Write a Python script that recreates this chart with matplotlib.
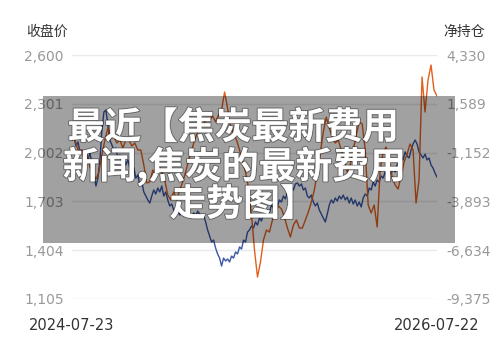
import matplotlib
matplotlib.use('Agg')
import matplotlib.pyplot as plt
import matplotlib.patheffects as pe
import pandas as pd

# 收盘价（左轴）
close_price = [2079, 2098, 2042, 2067, 2006, 2018, 1969, 1987, 1957, 2000,
               1938, 1865, 1797, 1846, 1957, 2140, 2251, 2263, 2171, 2079,
               2049, 2018, 2030, 1969, 1987, 1944, 1969, 1926, 1957, 1908,
               1883, 1908, 1846, 1865, 1803, 1822, 1761, 1736, 1712, 1693,
               1736, 1773, 1748, 1785, 1761, 1797, 1736, 1761, 1712, 1675,
               1687, 1650, 1638, 1656, 1620, 1632, 1614, 1638, 1614, 1626,
               1607, 1632, 1614, 1644, 1626, 1601, 1620, 1577, 1528, 1491,
               1454, 1466, 1417, 1381, 1356, 1307, 1356, 1338, 1350, 1332,
               1368, 1356, 1393, 1381, 1424, 1411, 1466, 1454, 1515, 1528,
               1552, 1540, 1577, 1558, 1601, 1583, 1626, 1614, 1650, 1638,
               1681, 1663, 1693, 1675, 1712, 1699, 1736, 1718, 1761, 1742,
               1785, 1773, 1810, 1816, 1797, 1810, 1773, 1785, 1736, 1724,
               1742, 1699, 1675, 1693, 1650, 1626, 1601, 1577, 1626, 1681,
               1712, 1693, 1724, 1705, 1736, 1718, 1742, 1712, 1730, 1693,
               1724, 1687, 1712, 1675, 1699, 1669, 1724, 1748, 1736, 1785,
               1773, 1822, 1797, 1834, 1822, 1859, 1846, 1883, 1859, 1895,
               1871, 1908, 1883, 1926, 1957, 1981, 1957, 2006, 1981, 1969,
               2018, 2055, 2079, 2055, 2006, 1987, 1969, 1993, 1957, 1969,
               1926, 1908, 1877, 1852]

# 净持仓（右轴）
net_position = [-164, -444, -1006, -1006, -1456, -1287, -1961, -2354, -2635, -2242,
                -1287, -444, 230, -332, -276, -613, -444, -894, -444, -444,
                -781, -613, -1006, -1006, -1849, -2860, -2804, -2130, -2467, -1849,
                -2242, -2691, -3534, -3815, -3365, -3815, -3253, -2804, -2242, -1568,
                -1006, -444, 5, 230, 454, 791, 679, 904, 567, 960,
                1241, 2252, 1353, 286, -107, -444, -1006, -1680, -2242, -3140,
                -4657, -6623, -8140, -7297, -6061, -5500, -5612, -4938, -4489, -4152,
                -4320, -4769, -5388, -5893, -5219, -4938, -5388, -5388, -4938, -4489,
                -3927, -3253, -2242, -1175, 5, 847, 230, -276, -613, -444,
                -1006, -1568, -2242, -1849, -1006, -164, 567, 454, -1006, -4096,
                -4545, -4096, -5331, -2130, -1118, -838, -1568, -2523, -2972, -3197,
                -2467, -1680, -1231, -669, -1006, -3984, -2691, 3094, 1128, 2926,
                3768, 2364, 2027]

dates_start = '2024-07-23'
dates_end = '2026-07-22'
left_ticks = [1105, 1404, 1703, 2002, 2301, 2600]
right_ticks = [-9375, -6634, -3893, -1152, 1589, 4330]
overlay_lines = ['最近【焦炭最新费用', '新闻,焦炭的最新费用', '走势图】']

x_price = pd.date_range(dates_start, dates_end, periods=len(close_price))
x_pos = pd.date_range(dates_start, dates_end, periods=len(net_position))

plt.rcParams['font.family'] = ['Noto Sans CJK SC', 'DejaVu Sans']

fig = plt.figure(figsize=(5, 3.4), dpi=100)
ax = fig.add_axes([0.144, 0.1206, 0.730, 0.7176])
ax2 = ax.twinx()

ax.plot(x_price, close_price, color='#3a57a7', lw=1.0, zorder=3)
ax2.plot(x_pos, net_position, color='#e2601c', lw=1.0, zorder=3)

ax.set_ylim(left_ticks[0], left_ticks[-1])
ax2.set_ylim(right_ticks[0], right_ticks[-1])
ax.set_xlim(x_price[0], x_price[-1])
ax.set_yticks(left_ticks)
ax2.set_yticks(right_ticks)
ax.set_yticklabels([f'{v:,}' for v in left_ticks], family='DejaVu Sans')
ax2.set_yticklabels([f'{v:,}' for v in right_ticks], family='DejaVu Sans')
ax.set_xticks([x_price[0], x_price[-1]])
ax.set_xticklabels([dates_start, dates_end], family='DejaVu Sans')

ax.grid(axis='y', color='#e6e9ee', lw=1)
ax.tick_params(axis='y', length=0, labelsize=10, labelcolor='#999999', pad=6)
ax2.tick_params(axis='y', length=0, labelsize=10, labelcolor='#999999', pad=7)
ax.tick_params(axis='x', length=0, labelsize=10.5, labelcolor='#333333', pad=14)
for a in (ax, ax2):
    for s in a.spines.values():
        s.set_visible(False)

fig.text(0.094, 0.905, '收盘价', fontsize=10, color='#333333', ha='center', va='center')
fig.text(0.928, 0.905, '净持仓', fontsize=10, color='#333333', ha='center', va='center')

# 半透明灰色遮罩 + 标题文字
fig.patches.append(plt.Rectangle((0.086, 0.285), 0.824, 0.433, transform=fig.transFigure,
                                 facecolor='black', alpha=0.37, zorder=5))
text_x = [0.466, 0.468, 0.486]
for i, line in enumerate(overlay_lines):
    fig.text(text_x[i], 0.623 - i * 0.113, line, fontsize=26.5, fontweight='bold', color='white',
             ha='center', va='center', zorder=6,
             path_effects=[pe.withStroke(linewidth=1.5, foreground=(0, 0, 0, 0.35))])

fig.savefig('out.png', dpi=100)
